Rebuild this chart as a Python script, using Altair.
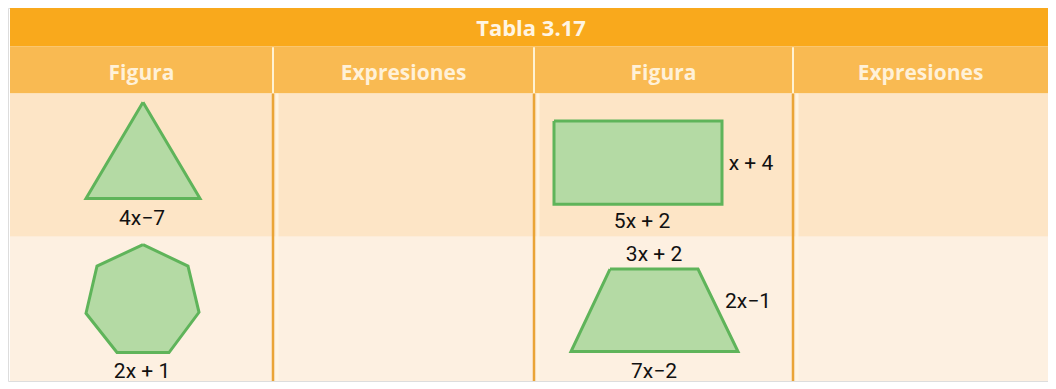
import altair as alt
import pandas as pd

# ---------------- data ----------------
TITLE = "Tabla 3.17"
HEADERS = ["Figura", "Expresiones", "Figura", "Expresiones"]

COL_EDGES = [10, 273, 534, 793, 1048]          # table column boundaries
BAND_EDGES = [7, 46, 94, 240, 387]              # title | header | row 1 | row 2
BAND_COLORS = ["#F9A91C", "#F9BA52", "#FDE5C6", "#FDF0E1"]

# figures (vertex lists, closed)
SHAPE_NAMES = ["triangulo", "rectangulo", "heptagono", "trapecio"]
TRI_X = [143, 200, 86, 143]
TRI_Y = [103, 201, 201, 103]
RECT_X = [554, 722, 722, 554, 554]
RECT_Y = [122, 122, 207, 207, 122]
HEPT_X = [143, 188, 199, 169, 117, 86, 97, 143]
HEPT_Y = [248, 270, 317, 358, 358, 318, 270, 248]
TRAP_X = [610, 698, 738, 571, 610]
TRAP_Y = [273, 273, 357, 357, 273]

# side labels of the figures
LABEL_TEXT = ["4x\u22127", "5x + 2", "x + 4", "2x + 1", "3x + 2", "2x\u22121", "7x\u22122"]
LABEL_X = [142, 642, 751, 142, 654, 748, 654]
LABEL_Y = [222, 225, 166, 378, 259, 307, 378]

# ---------------- tables built from the arrays ----------------
bands = pd.DataFrame({
    "x": [COL_EDGES[0]] * 4,
    "x2": [COL_EDGES[-1]] * 4,
    "y": BAND_EDGES[:-1],
    "y2": BAND_EDGES[1:],
    "c": BAND_COLORS,
})

inner = COL_EDGES[1:-1]
div_head = pd.DataFrame({"x": inner, "y": [BAND_EDGES[1] + 1] * 3, "y2": [BAND_EDGES[2]] * 3})
div_body = pd.DataFrame({"x": inner, "y": [BAND_EDGES[2]] * 3, "y2": [BAND_EDGES[4]] * 3})
div_halo = pd.DataFrame({"x": [v + 4 for v in inner], "y": [BAND_EDGES[2]] * 3, "y2": [BAND_EDGES[4]] * 3})

rows = []
for name, xs_, ys_ in zip(SHAPE_NAMES, [TRI_X, RECT_X, HEPT_X, TRAP_X], [TRI_Y, RECT_Y, HEPT_Y, TRAP_Y]):
    for i, (a, b) in enumerate(zip(xs_, ys_)):
        rows.append({"shape": name, "i": i, "x": a, "y": b})
shapes = pd.DataFrame(rows)

head_df = pd.DataFrame({
    "x": [(COL_EDGES[k] + COL_EDGES[k + 1]) / 2 for k in range(4)],
    "y": [(BAND_EDGES[1] + BAND_EDGES[2]) / 2 + 4] * 4,
    "t": HEADERS,
})
title_df = pd.DataFrame({"x": [(COL_EDGES[0] + COL_EDGES[-1]) / 2 + 2],
                         "y": [(BAND_EDGES[0] + BAND_EDGES[1]) / 2 + 2], "t": [TITLE]})
labels = pd.DataFrame({"x": LABEL_X, "y": LABEL_Y, "t": LABEL_TEXT})

# ---------------- scales ----------------
xs = alt.Scale(domain=[8, 1048], nice=False, zero=False)
ys = alt.Scale(domain=[7, 387], reverse=True, nice=False, zero=False)
X = lambda f="x": alt.X(f"{f}:Q", scale=xs, axis=None)
Y = lambda f="y": alt.Y(f"{f}:Q", scale=ys, axis=None)

bg = alt.Chart(bands).mark_rect().encode(
    x=X(), x2="x2:Q", y=Y(), y2="y2:Q", color=alt.Color("c:N", scale=None)
)

halo = alt.Chart(div_halo).mark_rule(color="#FFF6E4", strokeWidth=3, opacity=0.8).encode(
    x=X(), y=Y(), y2="y2:Q")
rule_head = alt.Chart(div_head).mark_rule(color="#FFF2D2", strokeWidth=2).encode(
    x=X(), y=Y(), y2="y2:Q")
rule_body = alt.Chart(div_body).mark_rule(color="#EAA536", strokeWidth=2.5).encode(
    x=X(), y=Y(), y2="y2:Q")

polys = alt.Chart(shapes).mark_line(
    filled=True, fill="#B4DAA4", stroke="#5FB45A", strokeWidth=3, strokeJoin="miter"
).encode(x=X(), y=Y(), detail="shape:N", order="i:Q")

title_txt = alt.Chart(title_df).mark_text(
    font="Open Sans", fontSize=22, fontWeight="bold", color="#FFF5E3", baseline="middle", align="center"
).encode(x=X(), y=Y(), text="t:N")

head_txt = alt.Chart(head_df).mark_text(
    font="Open Sans", fontSize=21, fontWeight="bold", color="#FFF1D8", baseline="middle", align="center"
).encode(x=X(), y=Y(), text="t:N")

lab_txt = alt.Chart(labels).mark_text(
    font="Roboto", fontSize=21, color="#111111", baseline="middle", align="center"
).encode(x=X(), y=Y(), text="t:N")

chart = alt.layer(bg, halo, rule_head, rule_body, polys, title_txt, head_txt, lab_txt).properties(
    width=1040, height=373, padding=0
).configure_view(stroke=None).configure(background="#FFFFFF")

chart.save("out.html", embed_options={"renderer": "svg", "actions": False})
